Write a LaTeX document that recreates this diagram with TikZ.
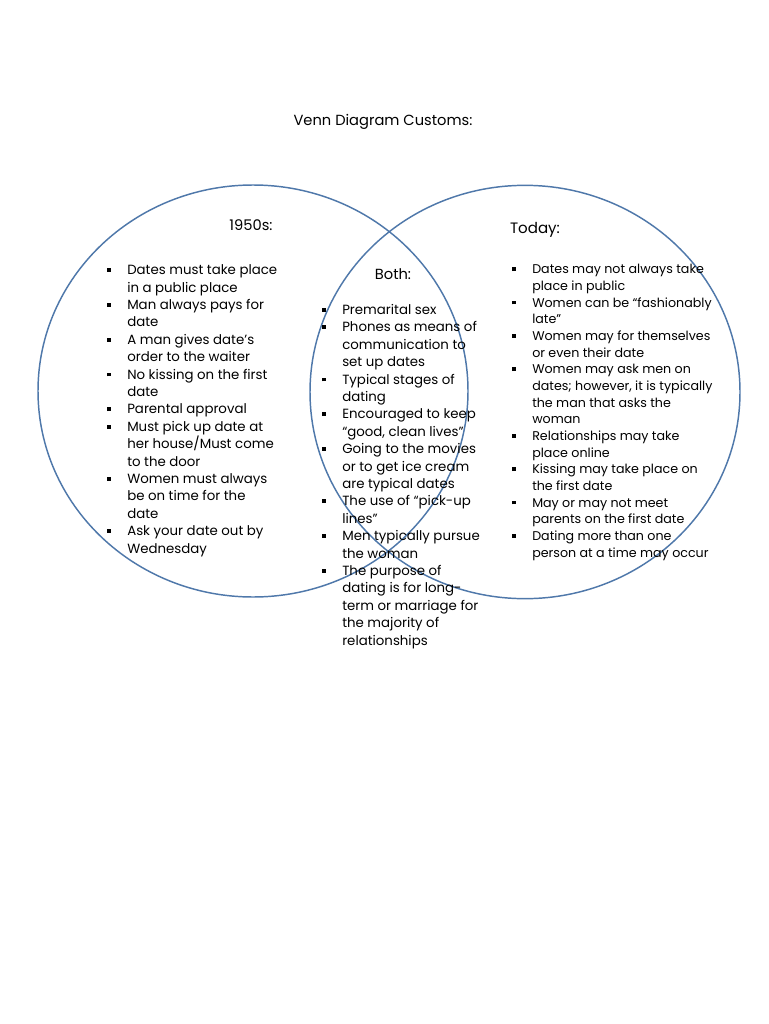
\documentclass[tikz,border=0pt]{standalone}
\usepackage{fontspec}
\setmainfont{Poppins}
\usepackage{xcolor}
\definecolor{vennblue}{HTML}{4F78AA}
\usetikzlibrary{positioning,shapes.geometric}
\newcommand{\bul}{\makebox[15pt][l]{\rule[0.2em]{2.8pt}{2.8pt}}}
\newcommand{\ind}{\hspace*{15pt}}
\tikzset{
  venn/.style={draw=vennblue, ellipse, line width=1.1pt, inner sep=0pt,
               minimum width=322.5pt},
  heading/.style={font=\fontsize{11}{13}\selectfont, inner sep=0pt},
  items/.style={align=left, inner sep=0pt, anchor=base west,
                font=\fontsize{10}{13.05}\selectfont},
}

\begin{document}
\begin{tikzpicture}[x=0.75pt, y=-0.75pt]
  \useasboundingbox (0,0) rectangle (768,1024);
  \node[venn, minimum height=309pt] (past) at (253,391) {};
  \node[venn, minimum height=310pt] (today) at (525,392) {};

  \node[heading] (title) at (383,122) {Venn Diagram Customs:};
  \node[heading] (h1950) at (251,225) {1950s:};
  \node[heading] (hboth) at (393,274) {Both:};
  \node[heading, font=\fontsize{11.3}{13}\selectfont] (htoday) at (535,230) {Today:};

  % anchors sit on the last line of each list
  \node[items] (l1950) at (107,553) {\bul Dates must take place\\
    \ind in a public place\\
    \bul Man always pays for\\
    \ind date\\
    \bul A man gives date’s\\
    \ind order to the waiter\\
    \bul No kissing on the first\\
    \ind date\\
    \bul Parental approval\\
    \bul Must pick up date at\\
    \ind her house/Must come\\
    \ind to the door\\
    \bul Women must always\\
    \ind be on time for the\\
    \ind date\\
    \bul Ask your date out by\\
    \ind Wednesday};

  \node[items] (lboth) at (322,645) {\bul Premarital sex\\
    \bul Phones as means of\\
    \ind communication to\\
    \ind set up dates\\
    \bul Typical stages of\\
    \ind dating\\
    \bul Encouraged to keep\\
    \ind “good, clean lives”\\
    \bul Going to the movies\\
    \ind or to get ice cream\\
    \ind are typical dates\\
    \bul The use of “pick-up\\
    \ind lines”\\
    \bul Men typically pursue\\
    \ind the woman\\
    \bul The purpose of\\
    \ind dating is for long-\\
    \ind term or marriage for\\
    \ind the majority of\\
    \ind relationships};

  \node[items, font=\fontsize{9.5}{12.5}\selectfont] (ltoday) at (512,557) {\bul Dates may not always take\\
    \ind place in public\\
    \bul Women can be “fashionably\\
    \ind late”\\
    \bul Women may for themselves\\
    \ind or even their date\\
    \bul Women may ask men on\\
    \ind dates; however, it is typically\\
    \ind the man that asks the\\
    \ind woman\\
    \bul Relationships may take\\
    \ind place online\\
    \bul Kissing may take place on\\
    \ind the first date\\
    \bul May or may not meet\\
    \ind parents on the first date\\
    \bul Dating more than one\\
    \ind person at a time may occur};
\end{tikzpicture}
\end{document}
